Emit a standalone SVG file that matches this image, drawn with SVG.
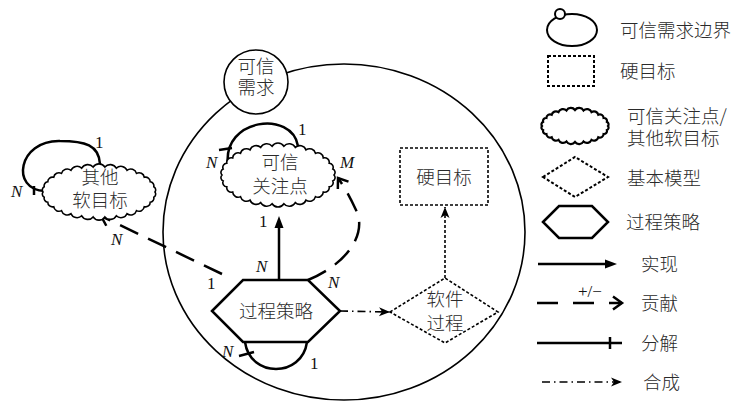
<svg xmlns="http://www.w3.org/2000/svg" width="737" height="406" viewBox="0 0 737 406">
<style>
.cjk{font-family:"Noto Sans CJK SC","Noto Sans",sans-serif;font-size:18.5px;font-weight:300;fill:#2a2a2a;text-anchor:middle}
.lg{text-anchor:start}
.it{font-family:"Liberation Serif",serif;font-style:italic;font-size:17px;fill:#111}
.num{font-family:"Liberation Serif",serif;font-size:17px;fill:#111}
.thin{fill:none;stroke:#000;stroke-width:1.6}
.thick{fill:none;stroke:#000;stroke-width:2.5}
.node{fill:#fff;stroke:#000}
.dot{fill:#fff;stroke:#000;stroke-width:1.6;stroke-dasharray:3 2}
.contrib{fill:none;stroke:#000;stroke-width:2.5;stroke-dasharray:20 11}
.comp{fill:none;stroke:#000;stroke-width:1.6;stroke-dasharray:8 4 1.5 4}
</style>
<defs>
<marker id="tri" viewBox="-1 -6 15 12" markerWidth="15" markerHeight="12" refX="0" refY="0" orient="auto" markerUnits="userSpaceOnUse"><path d="M0,-4.5 L12,0 L0,4.5 Z" fill="#000"/></marker>
<marker id="chev" viewBox="-12 -8 15 16" markerWidth="15" markerHeight="16" refX="0" refY="0" orient="auto" markerUnits="userSpaceOnUse"><path d="M-9,-6.5 L0,0 L-9,6.5" fill="none" stroke="#000" stroke-width="2.5"/></marker>
<marker id="dart" viewBox="-12 -6 13 12" markerWidth="13" markerHeight="12" refX="0" refY="0" orient="auto" markerUnits="userSpaceOnUse"><path d="M0,0 L-11,-4.5 L-8,0 L-11,4.5 Z" fill="#000"/></marker>
<path id="cloudA" d="M56,0 A3.7,3.7 0 0 1 54.8,6 A4.1,4.1 0 0 1 51.2,11.8 A4.7,4.7 0 0 1 45.3,17.1 A5.4,5.4 0 0 1 37.5,21.6 A6.1,6.1 0 0 1 28,25.1 A6.6,6.6 0 0 1 17.3,27.6 A6.9,6.9 0 0 1 5.9,28.8 A7,7 0 0 1 -5.9,28.8 A6.9,6.9 0 0 1 -17.3,27.6 A6.6,6.6 0 0 1 -28,25.1 A6.1,6.1 0 0 1 -37.5,21.6 A5.4,5.4 0 0 1 -45.3,17.1 A4.7,4.7 0 0 1 -51.2,11.8 A4.1,4.1 0 0 1 -54.8,6 A3.7,3.7 0 0 1 -56,0 A3.7,3.7 0 0 1 -54.8,-6 A4.1,4.1 0 0 1 -51.2,-11.8 A4.7,4.7 0 0 1 -45.3,-17.1 A5.4,5.4 0 0 1 -37.5,-21.6 A6.1,6.1 0 0 1 -28,-25.1 A6.6,6.6 0 0 1 -17.3,-27.6 A6.9,6.9 0 0 1 -5.9,-28.8 A7,7 0 0 1 5.9,-28.8 A6.9,6.9 0 0 1 17.3,-27.6 A6.6,6.6 0 0 1 28,-25.1 A6.1,6.1 0 0 1 37.5,-21.6 A5.4,5.4 0 0 1 45.3,-17.1 A4.7,4.7 0 0 1 51.2,-11.8 A4.1,4.1 0 0 1 54.8,-6 A3.7,3.7 0 0 1 56,0 Z"/>
<path id="cloudB" d="M56,0 A3.5,3.5 0 0 1 54.8,5.2 A4,4 0 0 1 51.2,10.2 A4.6,4.6 0 0 1 45.3,14.7 A5.3,5.3 0 0 1 37.5,18.6 A6,6 0 0 1 28,21.7 A6.6,6.6 0 0 1 17.3,23.8 A6.9,6.9 0 0 1 5.9,24.9 A7,7 0 0 1 -5.9,24.9 A6.9,6.9 0 0 1 -17.3,23.8 A6.6,6.6 0 0 1 -28,21.7 A6,6 0 0 1 -37.5,18.6 A5.3,5.3 0 0 1 -45.3,14.7 A4.6,4.6 0 0 1 -51.2,10.2 A4,4 0 0 1 -54.8,5.2 A3.5,3.5 0 0 1 -56,0 A3.5,3.5 0 0 1 -54.8,-5.2 A4,4 0 0 1 -51.2,-10.2 A4.6,4.6 0 0 1 -45.3,-14.7 A5.3,5.3 0 0 1 -37.5,-18.6 A6,6 0 0 1 -28,-21.7 A6.6,6.6 0 0 1 -17.3,-23.8 A6.9,6.9 0 0 1 -5.9,-24.9 A7,7 0 0 1 5.9,-24.9 A6.9,6.9 0 0 1 17.3,-23.8 A6.6,6.6 0 0 1 28,-21.7 A6,6 0 0 1 37.5,-18.6 A5.3,5.3 0 0 1 45.3,-14.7 A4.6,4.6 0 0 1 51.2,-10.2 A4,4 0 0 1 54.8,-5.2 A3.5,3.5 0 0 1 56,0 Z"/>
<path id="cloudC" d="M33,0 A2.6,2.6 0 0 1 31.9,4.1 A3.1,3.1 0 0 1 28.6,8 A3.7,3.7 0 0 1 23.3,11.3 A4.4,4.4 0 0 1 16.5,13.9 A4.9,4.9 0 0 1 8.5,15.5 A5.1,5.1 0 0 1 0,16 A5.1,5.1 0 0 1 -8.5,15.5 A4.9,4.9 0 0 1 -16.5,13.9 A4.4,4.4 0 0 1 -23.3,11.3 A3.7,3.7 0 0 1 -28.6,8 A3.1,3.1 0 0 1 -31.9,4.1 A2.6,2.6 0 0 1 -33,0 A2.6,2.6 0 0 1 -31.9,-4.1 A3.1,3.1 0 0 1 -28.6,-8 A3.7,3.7 0 0 1 -23.3,-11.3 A4.4,4.4 0 0 1 -16.5,-13.9 A4.9,4.9 0 0 1 -8.5,-15.5 A5.1,5.1 0 0 1 0,-16 A5.1,5.1 0 0 1 8.5,-15.5 A4.9,4.9 0 0 1 16.5,-13.9 A4.4,4.4 0 0 1 23.3,-11.3 A3.7,3.7 0 0 1 28.6,-8 A3.1,3.1 0 0 1 31.9,-4.1 A2.6,2.6 0 0 1 33,0 Z"/>
</defs>
<rect width="737" height="406" fill="#fff"/>

<g id="boundary">
<ellipse cx="344" cy="232" rx="181" ry="168" fill="none" stroke="#000" stroke-width="1.6"/>
<circle cx="256" cy="82" r="32" fill="#fff" stroke="#000" stroke-width="1.6"/>
<text class="cjk" x="256" y="73">可信</text>
<text class="cjk" x="256" y="94">需求</text>
</g>

<g id="connectors">
<path class="thick" d="M228,165 C 222,118 292,110 298,146"/>
<line class="thick" x1="219" y1="150" x2="232" y2="148"/>
<path class="thick" d="M45,191 C 10,190 18,140 60,141 C 85,141 99,145 100,164"/>
<line class="thick" x1="34" y1="186" x2="34" y2="195"/>
<path class="thick" d="M245,342 C 250,378 302,378 307,342"/>
<line class="thick" x1="239" y1="356" x2="254" y2="352"/>
<line class="thick" x1="279" y1="280" x2="279" y2="228" marker-end="url(#tri)"/>
<path class="contrib" d="M308,280 C 345,265 368,235 356,210 C 350,197 345,188 338,178" marker-end="url(#chev)"/>
<line class="contrib" x1="222" y1="274" x2="101" y2="216" marker-end="url(#chev)"/>
<line class="comp" x1="340" y1="311" x2="390" y2="312" marker-end="url(#dart)"/>
<line class="dot" x1="445" y1="278" x2="445" y2="207" marker-end="url(#dart)"/>
<text class="it" x="206" y="168">N</text>
<text class="num" x="298" y="135">1</text>
<text class="it" x="340" y="168">M</text>
<text class="num" x="259" y="227">1</text>
<text class="it" x="256" y="272">N</text>
<text class="it" x="328" y="288">N</text>
<text class="num" x="207" y="289">1</text>
<text class="it" x="111" y="245">N</text>
<text class="it" x="11" y="197">N</text>
<text class="num" x="95" y="148">1</text>
<text class="it" x="222" y="357">N</text>
<text class="num" x="310" y="369">1</text>
</g>

<g id="concern">
<use href="#cloudA" x="278" y="175" class="node" stroke-width="1.6"/>
<text class="cjk" x="280" y="169">可信</text>
<text class="cjk" x="280" y="193">关注点</text>
</g>

<g id="softgoal">
<use href="#cloudB" x="99" y="192" class="node" stroke-width="1.6"/>
<text class="cjk" x="100" y="184">其他</text>
<text class="cjk" x="100" y="207">软目标</text>
</g>

<g id="strategy">
<polygon points="212,311 243,280 308,280 340,311 308,342 243,342" class="node" stroke-width="2.5"/>
<text class="cjk" x="276" y="318">过程策略</text>
</g>

<g id="hardgoal">
<rect x="400" y="148" width="88" height="57" class="dot"/>
<text class="cjk" x="444" y="184">硬目标</text>
</g>

<g id="model">
<polygon points="390,312 445,278 498,312 445,343" class="dot"/>
<text class="cjk" x="445" y="306">软件</text>
<text class="cjk" x="445" y="330">过程</text>
</g>

<g id="legend">
<ellipse cx="572" cy="30" rx="25" ry="16" fill="#fff" stroke="#000" stroke-width="2"/>
<circle cx="560" cy="14" r="5" fill="#fff" stroke="#000" stroke-width="2"/>
<text class="cjk lg" x="620" y="37">可信需求边界</text>
<rect x="548" y="56" width="46" height="30" fill="#fff" stroke="#000" stroke-width="2" stroke-dasharray="3 2"/>
<text class="cjk lg" x="620" y="78">硬目标</text>
<use href="#cloudC" x="575" y="126" class="node" stroke-width="2.2"/>
<text class="cjk lg" x="627" y="123">可信关注点/</text>
<text class="cjk lg" x="627" y="145">其他软目标</text>
<polygon points="543,177 575,157 608,177 575,197" fill="#fff" stroke="#000" stroke-width="2" stroke-dasharray="3 2"/>
<text class="cjk lg" x="627" y="185">基本模型</text>
<polygon points="543,222 559,206 592,206 608,222 592,238 559,238" class="node" stroke-width="2.5"/>
<text class="cjk lg" x="626" y="229">过程策略</text>
<line class="thick" x1="538" y1="264" x2="605" y2="264" marker-end="url(#tri)"/>
<text class="cjk lg" x="641" y="271">实现</text>
<line x1="537" y1="303" x2="622" y2="303" fill="none" stroke="#000" stroke-width="2.5" stroke-dasharray="21 15" marker-end="url(#chev)"/>
<text class="num" x="578" y="297" font-size="14">+/−</text>
<text class="cjk lg" x="641" y="310">贡献</text>
<line class="thick" x1="537" y1="343" x2="622" y2="343"/>
<line class="thick" x1="610" y1="337" x2="610" y2="349"/>
<text class="cjk lg" x="641" y="350">分解</text>
<line class="comp" x1="542" y1="382" x2="622" y2="382" stroke-dasharray="11 6 1.5 6" marker-end="url(#dart)"/>
<text class="cjk lg" x="643" y="389">合成</text>
</g>
</svg>
